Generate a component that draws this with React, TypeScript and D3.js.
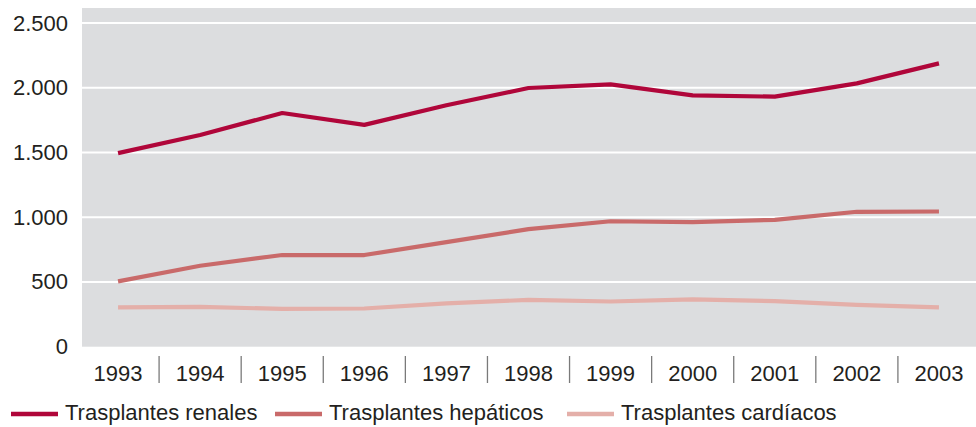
import React from "react";
import * as d3 from "d3";

const years = ["1993","1994","1995","1996","1997","1998","1999","2000","2001","2002","2003"];
const renales = [1495, 1635, 1805, 1713, 1865, 1998, 2026, 1941, 1931, 2034, 2188];
const hepaticos = [505, 625, 708, 708, 808, 908, 969, 962, 980, 1042, 1044];
const cardiacos = [303, 307, 292, 295, 334, 362, 349, 365, 352, 323, 303];
const yTicks = [0, 500, 1000, 1500, 2000, 2500];
const seriesNames = ["Trasplantes renales", "Trasplantes hepáticos", "Trasplantes cardíacos"];
const seriesColors = ["#B0063A", "#C96A6A", "#E4AFA9"];

const W = 976, H = 427;
const FONT = "'Liberation Sans', Arial, Helvetica, sans-serif";

export default function App() {
  const x = d3.scaleBand<string>().domain(years).range([77, 980]).paddingInner(0).paddingOuter(0);
  const y = d3.scaleLinear().domain([0, 2500]).range([346.7, 23]);
  const cx = (yr: string) => (x(yr) as number) + x.bandwidth() / 2;
  const line = d3.line<number>().x((_, i) => cx(years[i])).y((d) => y(d));
  const series = [renales, hepaticos, cardiacos];
  const fmt = (v: number) => d3.format(",")(v).replace(/,/g, ".");

  const legendX = [11, 275, 567];
  return (
    <svg width={W} height={H} style={{ position: "absolute", left: 0, top: 0, background: "#fff" }}>
      <rect x={82} y={8} width={W - 82} height={y(0) - 8} fill="#DCDDDF" />
      {yTicks.filter((t) => t > 0).map((t) => (
        <line key={t} x1={82} x2={W} y1={y(t)} y2={y(t)} stroke="#fff" strokeWidth={2} />
      ))}
      {yTicks.map((t) => (
        <text key={t} x={68} y={y(t) + 7.5} textAnchor="end" fontFamily={FONT} fontSize={22} fill="#231F20">
          {fmt(t)}
        </text>
      ))}
      {years.map((yr, i) => (
        <g key={yr}>
          {i > 0 && (
            <line x1={x(yr) as number} x2={x(yr) as number} y1={356} y2={383} stroke="#7a7a7a" strokeWidth={1.3} />
          )}
          <text x={cx(yr)} y={381} textAnchor="middle" fontFamily={FONT} fontSize={22} fill="#231F20">
            {yr}
          </text>
        </g>
      ))}
      {series.map((s, i) => (
        <path key={i} d={line(s) || ""} fill="none" stroke={seriesColors[i]} strokeWidth={4.2} strokeLinejoin="round" />
      ))}
      {seriesNames.map((n, i) => (
        <g key={n}>
          <line x1={legendX[i]} x2={legendX[i] + 47} y1={414} y2={414} stroke={seriesColors[i]} strokeWidth={4.5} />
          <text x={legendX[i] + 54} y={420} fontFamily={FONT} fontSize={22} fill="#231F20">
            {n}
          </text>
        </g>
      ))}
    </svg>
  );
}
